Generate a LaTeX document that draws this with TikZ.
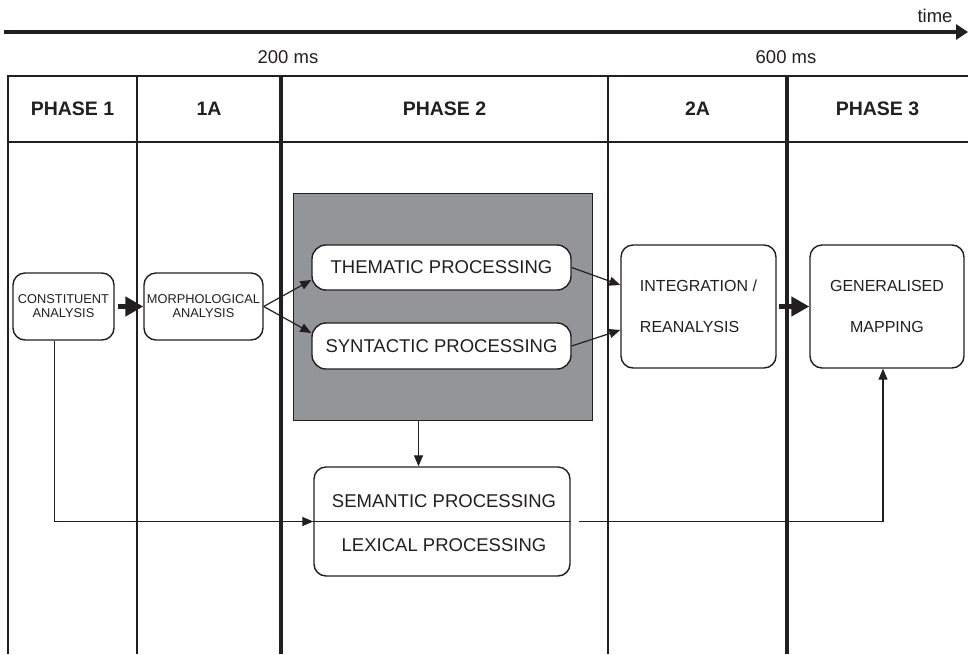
\documentclass[tikz,border=0pt]{standalone}
\usepackage{fontspec}
\setmainfont{Liberation Sans}
\usetikzlibrary{arrows.meta}
\definecolor{ink}{RGB}{35,31,32}
\definecolor{shade}{RGB}{147,149,152}

\begin{document}
\begin{tikzpicture}[x=1pt,y=-1pt,
  grid/.style={draw=ink, line width=1.3pt},
  gridthick/.style={draw=ink, line width=3.2pt},
  head/.style={font=\fontsize{19.5}{22}\selectfont\bfseries, text=ink, inner sep=0pt},
  stamp/.style={font=\fontsize{18.5}{22}\selectfont, text=ink, inner sep=0pt},
  box/.style={draw=ink, line width=1.4pt, fill=white, rounded corners=12pt,
    inner sep=0pt, text=ink, align=center},
  arr/.style={draw=ink, line width=1.2pt, -{Triangle[length=11pt,width=9pt]}},
  bigarr/.style={draw=ink, line width=5pt, -{Triangle[length=18pt,width=19pt]}},
]
\useasboundingbox (0,0) rectangle (968,654);

% time axis
\coordinate (t0) at (4,32);
\coordinate (t1) at (968,32);
\draw[draw=ink, line width=4pt, -{Triangle[length=12pt,width=15pt]}] (t0) -- (t1);
\node[stamp] (tlabel) at (935,16) {time};
\node[stamp] (ms200) at (288,57) {200 ms};
\node[stamp] (ms600) at (786,57) {600 ms};

% phase table
\draw[grid] (8,654) -- (8,76) -- (968,76);
\draw[grid] (8,142) -- (968,142);
\draw[grid] (137,76) -- (137,654);
\draw[gridthick] (281,76) -- (281,654);
\draw[grid] (608,76) -- (608,654);
\draw[gridthick] (787,76) -- (787,654);

\node[head] (p1) at (72.5,109) {PHASE 1};
\node[head] (p1a) at (209,109) {1A};
\node[head] (p2) at (444.5,109) {PHASE 2};
\node[head] (p2a) at (697.5,109) {2A};
\node[head] (p3) at (877.5,109) {PHASE 3};

% processing stages
\node[box, minimum width=101pt, minimum height=67pt, font=\fontsize{12.8}{14}\selectfont]
  (cons) at (63.5,306.5) {CONSTITUENT\\ANALYSIS};
\node[box, minimum width=119pt, minimum height=67pt, font=\fontsize{12.8}{14}\selectfont]
  (morph) at (203.5,306.5) {MORPHOLOGICAL\\ANALYSIS};

\node[draw=ink, line width=1pt, fill=shade, minimum width=299pt, minimum height=227pt,
  inner sep=0pt] (gray) at (442.5,306.5) {};
\node[box, rounded corners=14pt, minimum width=259pt, minimum height=45pt,
  font=\fontsize{18.5}{22}\selectfont] (them) at (441.5,267.5) {THEMATIC PROCESSING};
\node[box, rounded corners=14pt, minimum width=259pt, minimum height=46pt,
  font=\fontsize{18.5}{22}\selectfont] (syn) at (441.5,346) {SYNTACTIC PROCESSING};

\node[box, align=left, minimum width=155pt, minimum height=123pt,
  font=\fontsize{16}{41}\selectfont] (int) at (698.5,306.5) {INTEGRATION /\\REANALYSIS};
\node[box, minimum width=154pt, minimum height=123pt,
  font=\fontsize{16}{41}\selectfont] (gen) at (887,306.5) {GENERALISED\\MAPPING};

\node[box, minimum width=256pt, minimum height=109pt] (sem) at (442,521.5) {};
\draw[draw=ink, line width=1.3pt] (sem.west) -- (sem.east);
\node[stamp] (semt) at (444,501) {SEMANTIC PROCESSING};
\node[stamp] (lext) at (444,545) {LEXICAL PROCESSING};

% connectors
\draw[bigarr] ([xshift=3pt]cons.east) -- (morph.west);
\draw[arr] (morph.east) -- ([yshift=-12.5pt]them.west);
\draw[arr] (morph.east) -- ([yshift=13pt]syn.west);
\draw[arr] (them.east) -- ([yshift=21.5pt]int.west);
\draw[arr] (syn.east) -- ([yshift=-23.5pt]int.west);
\draw[bigarr] ([xshift=2pt]int.east) -- (gen.west);

\coordinate (gdrop) at ([xshift=-24pt]gray.south);
\draw[arr] (gdrop) -- (gdrop |- sem.north);

\coordinate (cdrop) at ([xshift=-9pt]cons.south);
\draw[arr] (cdrop) |- (sem.west);

\coordinate (sout) at ([xshift=8pt]sem.east);
\coordinate (gin) at ([xshift=-4pt]gen.south);
\draw[arr] (sout) -| (gin);
\end{tikzpicture}
\end{document}
